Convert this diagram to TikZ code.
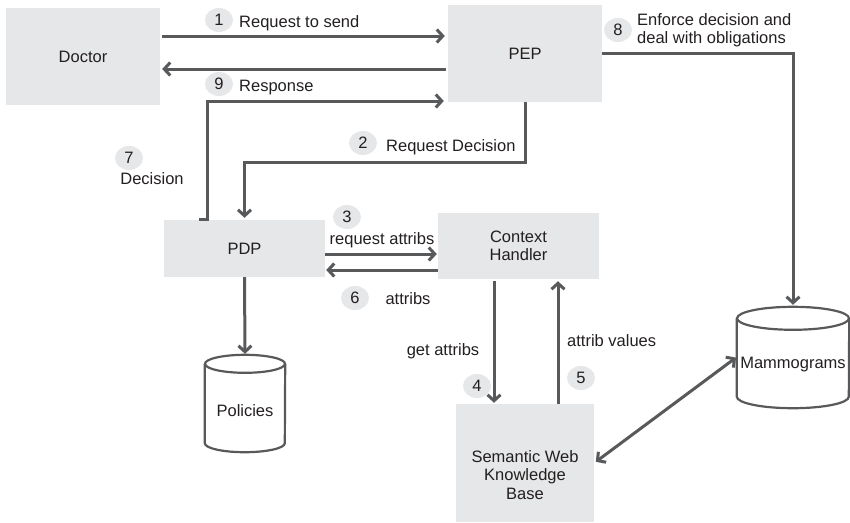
\documentclass[tikz,border=0pt]{standalone}
\usepackage{fontspec}
\setmainfont{Liberation Sans}
\usetikzlibrary{arrows.meta,shapes.geometric}
\definecolor{boxgray}{HTML}{E6E7E8}
\definecolor{linegray}{HTML}{58595B}
\definecolor{inkgray}{HTML}{231F20}
\begin{document}
\begin{tikzpicture}[x=1pt,y=-1pt,
  font=\fontsize{16.5}{19.5}\selectfont, text=inkgray,
  block/.style={rectangle, fill=boxgray, draw=none, inner sep=0pt, align=center},
  store/.style={rectangle, draw=none, inner sep=0pt},
  cyl/.style={draw=linegray, line width=2.2pt},
  flow/.style={draw=linegray, line width=3pt,
    -{Straight Barb[length=6pt,width=13pt]}},
  twoway/.style={draw=linegray, line width=3pt,
    {Straight Barb[length=6pt,width=13pt]}-{Straight Barb[length=6pt,width=13pt]}},
  plain/.style={draw=linegray, line width=3pt},
  numtag/.style={ellipse, fill=boxgray, minimum width=28pt, minimum height=24pt, inner sep=0pt},
  lbl/.style={inner sep=0pt, text height=12pt, text depth=3.5pt, align=left}
]
\useasboundingbox (0,0) rectangle (850,522);

% main components
\node[block, minimum width=154pt, minimum height=97pt] (doctor) at (83,56.5) {Doctor};
\node[block, minimum width=154pt, minimum height=97pt] (pep) at (525,53.5) {PEP};
\node[block, minimum width=161pt, minimum height=57pt] (pdp) at (244.5,248.5) {PDP};
\node[block, minimum width=161pt, minimum height=66pt] (ctx) at (518.5,246) {Context\\[-1pt]Handler};
\node[block, minimum width=138pt, minimum height=118pt,
  label={[yshift=-12pt, align=center, inner sep=0pt]center:Semantic Web\\[-1pt]Knowledge\\[-1pt]Base}]
  (swkb) at (525,463) {};

% data stores (cylinders)
\node[store, minimum width=80pt, minimum height=97pt,
  label={[yshift=-7.5pt, inner sep=0pt]center:Policies}] (pol) at (245,403.5) {};
\draw[cyl] ([yshift=-9pt]pol.north west) -- ([yshift=9pt]pol.south west)
  arc[start angle=180, end angle=360, x radius=40pt, y radius=9pt]
  -- ([yshift=-9pt]pol.north east);
\draw[cyl] ([yshift=-9pt]pol.north) ellipse [x radius=40pt, y radius=9pt];

\node[store, minimum width=112pt, minimum height=101pt,
  label={[yshift=-7.5pt, inner sep=0pt]center:Mammograms}] (mam) at (793,357.5) {};
\draw[cyl] ([yshift=-11.5pt]mam.north west) -- ([yshift=11.5pt]mam.south west)
  arc[start angle=180, end angle=360, x radius=56pt, y radius=11.5pt]
  -- ([yshift=-11.5pt]mam.north east);
\draw[cyl] ([yshift=-11.5pt]mam.north) ellipse [x radius=56pt, y radius=11.5pt];

% message flows
\draw[flow, shorten <=2pt, shorten >=3pt] (doctor.east |- 0,36) -- (pep.west |- 0,36);
\draw[flow, shorten <=2pt, shorten >=2pt] (pep.west |- 0,69) -- (doctor.east |- 0,69);
\draw[flow, shorten >=4pt] (pdp.north -| 199,0) -- (pdp.north -| 207,0) -- (207,101) -- (pep.west |- 0,101);
\draw[flow, shorten >=2pt] (pep.south) -- (pep.south |- 0,162) -| (pdp.north);
\draw[flow, shorten >=1pt] (pdp.east |- 0,254) -- (ctx.west |- 0,254);
\draw[flow, shorten >=1pt] (ctx.west |- 0,270) -- (pdp.east |- 0,270);
\draw[flow, shorten >=1pt] (pdp.south) -- (pol.north);
\draw[flow, shorten <=2pt, shorten >=1pt] (ctx.south -| 494,0) -- (swkb.north -| 494,0);
\draw[flow, shorten >=2pt] (swkb.north -| 558,0) -- (ctx.south -| 558,0);
\draw[flow, shorten >=2pt] (pep.east |- 0,53) -| (mam.north);
\draw[twoway, shorten <=2pt, shorten >=1pt] (swkb.east |- 0,463) -- (mam.west |- 0,357);

% step numbers and labels
\node[numtag] (n1) at (219,20) {1};
\node[lbl, anchor=west] (t1) at (239,23) {Request to send};
\node[numtag] (n9) at (219,84) {9};
\node[lbl, anchor=west] (t9) at (239,87) {Response};
\node[numtag] (n2) at (363,143) {2};
\node[lbl, anchor=west] (t2) at (386,147) {Request Decision};
\node[numtag] (n7) at (129,158) {7};
\node[lbl] (t7) at (152,180) {Decision};
\node[numtag] (n8) at (618,30) {8};
\node[inner sep=0pt, align=left, anchor=west] (t8) at (637,30) {Enforce decision and\\[-1pt]deal with obligations};
\node[numtag] (n3) at (347,217) {3};
\node[lbl] (t3) at (382,240) {request attribs};
\node[numtag] (n6) at (355,298) {6};
\node[lbl] (t6) at (408,300) {attribs};
\node[numtag] (n4) at (477,386) {4};
\node[lbl] (t4) at (443,351) {get attribs};
\node[numtag] (n5) at (581,378) {5};
\node[lbl, anchor=west] (t5) at (567,342) {attrib values};
\end{tikzpicture}
\end{document}
